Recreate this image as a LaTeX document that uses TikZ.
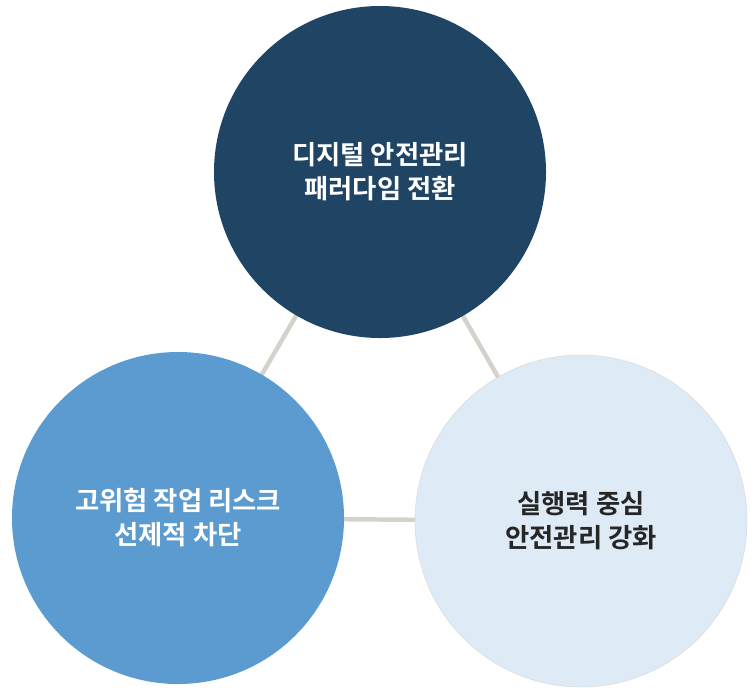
\documentclass[tikz,border=0pt]{standalone}
\usepackage{fontspec}
\newfontfamily\krfont{Noto Sans CJK KR}[BoldFont={Noto Sans CJK KR Bold}]
\usepackage{tikz}
\usetikzlibrary{backgrounds}

\definecolor{navy}{HTML}{1F4464}
\definecolor{midblue}{HTML}{5B9BD0}
\definecolor{paleblue}{HTML}{DEEAF6}
\definecolor{linkgray}{HTML}{D5D2CC}
\definecolor{darktext}{HTML}{262626}

\tikzset{
    goal/.style={circle, minimum size=9.96cm, inner sep=0pt, align=center,
        font=\krfont\bfseries\fontsize{22.5}{29}\selectfont},
    link/.style={draw=linkgray, line width=3.8pt}
}

\begin{document}
\begin{tikzpicture}[x=0.03cm, y=-0.03cm]
    \useasboundingbox (0,0) rectangle (756,691);
    \node[goal, fill=navy, text=white] (Digital) at (380,172) {디지털 안전관리\\패러다임 전환};
    \node[goal, fill=midblue, text=white] (Risk) at (178,518) {고위험 작업 리스크\\선제적 차단};
    \node[goal, fill=paleblue, draw=black!15, text=darktext] (Exec) at (581,521) {실행력 중심\\안전관리 강화};
    \begin{scope}[on background layer]
        \draw[link] (Digital.center) -- (Risk.center);
        \draw[link] (Digital.center) -- (Exec.center);
        \draw[link] (Risk.center) -- (Exec.center);
    \end{scope}
\end{tikzpicture}
\end{document}
